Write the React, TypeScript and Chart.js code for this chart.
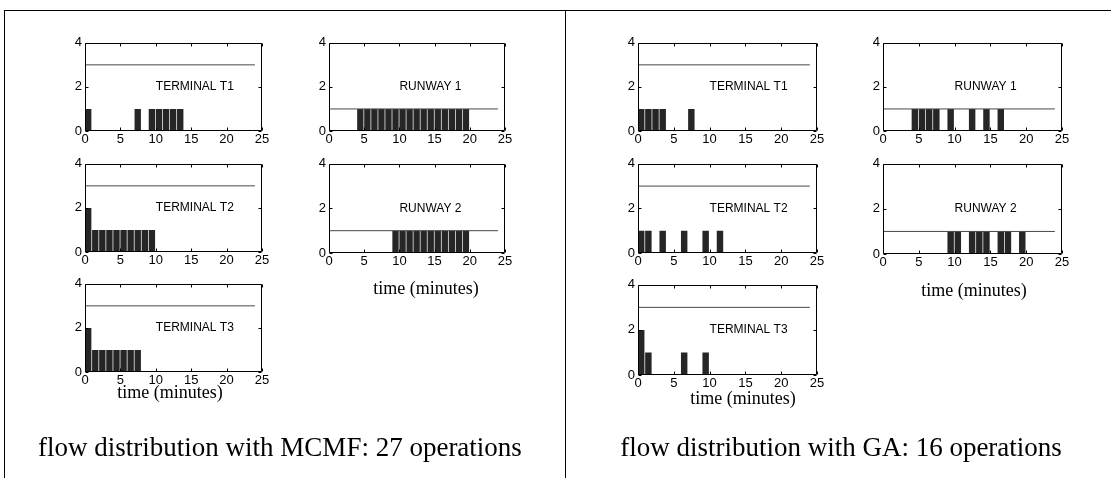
import React, { useEffect, useRef } from "react";
import { Chart, registerables } from "chart.js";

Chart.register(...registerables);

// ---------- data ----------
const xTickValues = [0, 5, 10, 15, 20, 25];
const yTickValues = [0, 2, 4];

const terminalCapacity = 3;
const runwayCapacity = 1;
const capacityFrom = 0;
const capacityTo = 24;

// MCMF (minute index -> operations)
const mcmfT1Minutes = [0, 7, 9, 10, 11, 12, 13];
const mcmfT1Ops = [1, 1, 1, 1, 1, 1, 1];
const mcmfT2Minutes = [0, 1, 2, 3, 4, 5, 6, 7, 8, 9];
const mcmfT2Ops = [2, 1, 1, 1, 1, 1, 1, 1, 1, 1];
const mcmfT3Minutes = [0, 1, 2, 3, 4, 5, 6, 7];
const mcmfT3Ops = [2, 1, 1, 1, 1, 1, 1, 1];
const mcmfR1Minutes = [4, 5, 6, 7, 8, 9, 10, 11, 12, 13, 14, 15, 16, 17, 18, 19];
const mcmfR1Ops = [1, 1, 1, 1, 1, 1, 1, 1, 1, 1, 1, 1, 1, 1, 1, 1];
const mcmfR2Minutes = [9, 10, 11, 12, 13, 14, 15, 16, 17, 18, 19];
const mcmfR2Ops = [1, 1, 1, 1, 1, 1, 1, 1, 1, 1, 1];

// GA
const gaT1Minutes = [0, 1, 2, 3, 7];
const gaT1Ops = [1, 1, 1, 1, 1];
const gaT2Minutes = [0, 1, 3, 6, 9, 11];
const gaT2Ops = [1, 1, 1, 1, 1, 1];
const gaT3Minutes = [0, 1, 6, 9];
const gaT3Ops = [2, 1, 1, 1];
const gaR1Minutes = [4, 5, 6, 7, 9, 12, 14, 16];
const gaR1Ops = [1, 1, 1, 1, 1, 1, 1, 1];
const gaR2Minutes = [9, 10, 12, 13, 14, 16, 17, 19];
const gaR2Ops = [1, 1, 1, 1, 1, 1, 1, 1];

const mcmfCaption = "flow distribution with MCMF: 27 operations";
const gaCaption = "flow distribution with GA: 16 operations";
const xAxisTitle = "time (minutes)";

const SANS = '"Liberation Sans", Arial, sans-serif';

// ---------- plugin: MATLAB-like box, inward ticks, inner label ----------
const matlabAxes = {
  id: "matlabAxes",
  afterDatasetsDraw(chart: any, _args: any, opts: any) {
    const { ctx, chartArea: a, scales } = chart;
    const x = scales.x;
    const y = scales.y;
    ctx.save();
    ctx.strokeStyle = "#000";
    ctx.lineWidth = 1;
    ctx.beginPath();
    const L = Math.round(a.left) + 0.5;
    const R = Math.round(a.right) - 0.5;
    const T = Math.round(a.top) + 0.5;
    const B = Math.round(a.bottom) - 0.5;
    ctx.rect(L, T, R - L, B - T);
    const tl = 3;
    x.ticks.forEach((t: any) => {
      const px = Math.round(x.getPixelForValue(t.value)) + 0.5;
      ctx.moveTo(px, B);
      ctx.lineTo(px, B - tl);
      ctx.moveTo(px, T);
      ctx.lineTo(px, T + tl);
    });
    y.ticks.forEach((t: any) => {
      const py = Math.round(y.getPixelForValue(t.value)) + 0.5;
      ctx.moveTo(L, py);
      ctx.lineTo(L + tl, py);
      ctx.moveTo(R, py);
      ctx.lineTo(R - tl, py);
    });
    ctx.stroke();
    ctx.font = "12px " + SANS;
    ctx.fillStyle = "#000";
    ctx.textAlign = "left";
    ctx.textBaseline = "middle";
    ctx.fillText(opts.text, x.getPixelForValue(opts.lx), y.getPixelForValue(opts.ly));
    ctx.restore();
  },
};

type Box = { l: number; t: number; r: number; b: number };

const PAD_L = 6;
const Y_W = 30;
const PAD_T = 10;
const PAD_R = 14;
const X_H = 22;

function SubPlot(props: { box: Box; minutes: number[]; ops: number[]; capacity: number; label: string }) {
  const ref = useRef<HTMLCanvasElement | null>(null);
  const { box, minutes, ops, capacity, label } = props;
  const w = box.r - box.l + PAD_L + Y_W + PAD_R;
  const h = box.b - box.t + PAD_T + X_H;
  useEffect(() => {
    if (!ref.current) return;
    const chart = new Chart(ref.current, {
      type: "bar",
      data: {
        datasets: [
          {
            type: "bar",
            data: minutes.map((m, i) => ({ x: m + 0.45, y: ops[i] })),
            backgroundColor: "#262626",
            borderWidth: 0,
            barPercentage: 0.9,
            categoryPercentage: 1,
            order: 2,
          } as any,
          {
            type: "line",
            data: [
              { x: capacityFrom, y: capacity },
              { x: capacityTo, y: capacity },
            ],
            borderColor: "#484848",
            borderWidth: 1,
            pointRadius: 0,
            fill: false,
            order: 1,
          } as any,
        ],
      },
      options: {
        responsive: false,
        animation: false,
        events: [],
        layout: { padding: { left: PAD_L, top: PAD_T, right: PAD_R, bottom: 0 } },
        plugins: {
          legend: { display: false },
          tooltip: { enabled: false },
          matlabAxes: { text: label, lx: 10, ly: 2 },
        } as any,
        scales: {
          x: {
            type: "linear",
            min: 0,
            max: 25,
            offset: false,
            afterBuildTicks: (s: any) => {
              s.ticks = xTickValues.map((v) => ({ value: v }));
            },
            afterFit: (s: any) => {
              s.height = X_H;
            },
            grid: { display: false, drawTicks: false, offset: false },
            border: { display: false },
            ticks: {
              padding: 1,
              color: "#000",
              maxRotation: 0,
              autoSkip: false,
              font: { family: SANS, size: 13 },
            },
          },
          y: {
            type: "linear",
            min: 0,
            max: 4,
            afterBuildTicks: (s: any) => {
              s.ticks = yTickValues.map((v) => ({ value: v }));
            },
            afterFit: (s: any) => {
              s.width = Y_W;
            },
            grid: { display: false, drawTicks: false },
            border: { display: false },
            ticks: {
              padding: 3,
              color: "#000",
              font: { family: SANS, size: 13 },
            },
          },
        },
      },
      plugins: [matlabAxes as any],
    });
    return () => chart.destroy();
  }, []);
  return (
    <canvas
      ref={ref}
      width={w}
      height={h}
      style={{ position: "absolute", left: box.l - PAD_L - Y_W, top: box.t - PAD_T, width: w, height: h }}
    />
  );
}

function Text(props: { x: number; y: number; size: number; text: string }) {
  return (
    <div
      style={{
        position: "absolute",
        left: props.x - 300,
        top: props.y - props.size,
        width: 600,
        height: props.size * 2,
        lineHeight: `${props.size * 2}px`,
        textAlign: "center",
        fontFamily: '"Liberation Serif", "Times New Roman", serif',
        fontSize: props.size,
        color: "#000",
        whiteSpace: "nowrap",
      }}
    >
      {props.text}
    </div>
  );
}

export default function App() {
  return (
    <div style={{ position: "absolute", left: 0, top: 0, width: 1111, height: 478, background: "#fff", overflow: "hidden" }}>
      {/* frame */}
      <div style={{ position: "absolute", left: 4, top: 10, width: 1107, height: 1, background: "#000" }} />
      <div style={{ position: "absolute", left: 4, top: 10, width: 1, height: 468, background: "#000" }} />
      <div style={{ position: "absolute", left: 565, top: 10, width: 1, height: 468, background: "#000" }} />

      {/* MCMF */}
      <SubPlot box={{ l: 85, t: 42, r: 262, b: 131 }} minutes={mcmfT1Minutes} ops={mcmfT1Ops} capacity={terminalCapacity} label="TERMINAL T1" />
      <SubPlot box={{ l: 329, t: 42, r: 505, b: 131 }} minutes={mcmfR1Minutes} ops={mcmfR1Ops} capacity={runwayCapacity} label="RUNWAY 1" />
      <SubPlot box={{ l: 85, t: 163, r: 262, b: 252 }} minutes={mcmfT2Minutes} ops={mcmfT2Ops} capacity={terminalCapacity} label="TERMINAL T2" />
      <SubPlot box={{ l: 329, t: 163, r: 505, b: 253 }} minutes={mcmfR2Minutes} ops={mcmfR2Ops} capacity={runwayCapacity} label="RUNWAY 2" />
      <SubPlot box={{ l: 85, t: 283, r: 262, b: 372 }} minutes={mcmfT3Minutes} ops={mcmfT3Ops} capacity={terminalCapacity} label="TERMINAL T3" />
      <Text x={426} y={288} size={18} text={xAxisTitle} />
      <Text x={170} y={392} size={18} text={xAxisTitle} />
      <Text x={280} y={447} size={27} text={mcmfCaption} />

      {/* GA */}
      <SubPlot box={{ l: 638, t: 42, r: 817, b: 131 }} minutes={gaT1Minutes} ops={gaT1Ops} capacity={terminalCapacity} label="TERMINAL T1" />
      <SubPlot box={{ l: 883, t: 42, r: 1062, b: 131 }} minutes={gaR1Minutes} ops={gaR1Ops} capacity={runwayCapacity} label="RUNWAY 1" />
      <SubPlot box={{ l: 638, t: 163, r: 817, b: 253 }} minutes={gaT2Minutes} ops={gaT2Ops} capacity={terminalCapacity} label="TERMINAL T2" />
      <SubPlot box={{ l: 883, t: 163, r: 1062, b: 254 }} minutes={gaR2Minutes} ops={gaR2Ops} capacity={runwayCapacity} label="RUNWAY 2" />
      <SubPlot box={{ l: 638, t: 284, r: 817, b: 375 }} minutes={gaT3Minutes} ops={gaT3Ops} capacity={terminalCapacity} label="TERMINAL T3" />
      <Text x={974} y={290} size={18} text={xAxisTitle} />
      <Text x={743} y={398} size={18} text={xAxisTitle} />
      <Text x={841} y={447} size={27} text={gaCaption} />
    </div>
  );
}
